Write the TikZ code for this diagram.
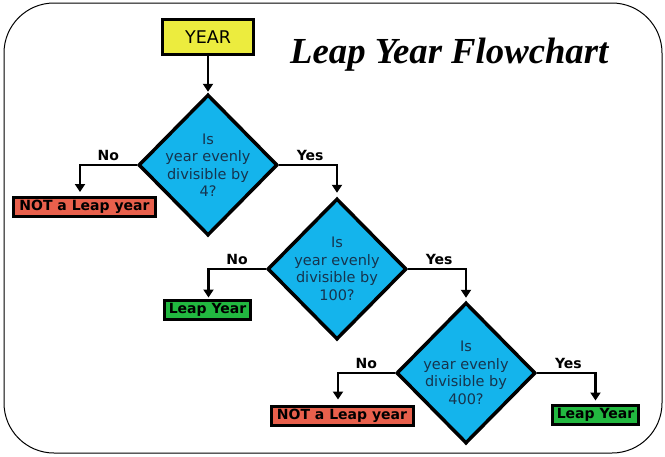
\documentclass[tikz,border=0pt]{standalone}
\usepackage{fontspec}
\setmainfont{DejaVu Sans}
\newfontfamily\titlefont{Liberation Serif}
\usetikzlibrary{shapes.geometric,arrows.meta}
\definecolor{yearyellow}{RGB}{236,236,62}
\definecolor{qblue}{RGB}{20,180,236}
\definecolor{nored}{RGB}{232,96,76}
\definecolor{yesgreen}{RGB}{34,184,64}
\definecolor{qtext}{RGB}{22,52,78}
\begin{document}
\begin{tikzpicture}[x=1pt,y=-1pt,
  decision/.style={diamond, draw=black, line width=3.5pt, fill=qblue, inner sep=0pt, minimum width=139pt, minimum height=141pt},
  qtextstyle/.style={align=center, text=qtext, font=\fontsize{14.5}{17.5}\selectfont, inner sep=0pt},
  result/.style={draw=black, line width=3pt, inner sep=0pt, minimum height=19pt, font=\fontsize{14}{16}\selectfont\bfseries},
  flow/.style={line width=2.4pt, -{Triangle[width=10pt,length=8pt]}},
  branch/.style={font=\fontsize{14}{16}\selectfont\bfseries, inner sep=0pt, above=3pt},
]
\useasboundingbox (0,0) rectangle (665,456);
\draw[line width=1pt, rounded corners=50pt] (4,3) rectangle (662,453);

\node[draw=black, line width=3.5pt, fill=yearyellow, inner sep=0pt, minimum width=91pt, minimum height=35pt, font=\fontsize{17.5}{20}\selectfont] (year) at (208,37) {YEAR};
\node[anchor=base west, inner sep=0pt, font=\titlefont\bfseries\itshape\fontsize{36.7}{40}\selectfont] (title) at (290,63) {Leap Year Flowchart};

\node[decision] (d1) at (208,165) {};
\node[qtextstyle] (d1t) at (d1.center) {Is\\year evenly\\divisible by\\4?};
\node[decision] (d2) at (337,269) {};
\node[qtextstyle] (d2t) at (d2.center) {Is\\year evenly\\divisible by\\100?};
\node[decision] (d3) at (466,373) {};
\node[qtextstyle] (d3t) at (d3.center) {Is\\year evenly\\divisible by\\400?};

\node[result, fill=nored, minimum width=142pt] (not1) at (84.5,207) {NOT a Leap year};
\node[result, fill=yesgreen, minimum width=86pt] (leap1) at (207.5,309.5) {Leap Year};
\node[result, fill=nored, minimum width=142pt] (not2) at (342,415.5) {NOT a Leap year};
\node[result, fill=yesgreen, minimum width=86pt] (leap2) at (595.5,414.5) {Leap Year};

\draw[flow, shorten >=1pt] (year.south) -- (d1.north);
\draw[flow, shorten >=4pt] (d1.west) -| node[pos=0.25, branch] {No} ([xshift=-4.5pt]not1.north);
\draw[flow, shorten >=4pt] (d1.east) -| node[pos=0.25, branch, xshift=2pt] {Yes} (d2.north);
\draw[flow, shorten >=1pt] (d2.west) -| node[pos=0.25, branch] {No} ([xshift=1pt]leap1.north);
\draw[flow, shorten >=3pt] (d2.east) -| node[pos=0.25, branch, xshift=2pt] {Yes} (d3.north);
\draw[flow, shorten >=5pt] (d3.west) -| node[pos=0.25, branch] {No} ([xshift=-4pt]not2.north);
\draw[flow, shorten >=3pt] (d3.east) -| node[pos=0.25, branch, xshift=2pt] {Yes} (leap2.north);
\end{tikzpicture}
\end{document}
